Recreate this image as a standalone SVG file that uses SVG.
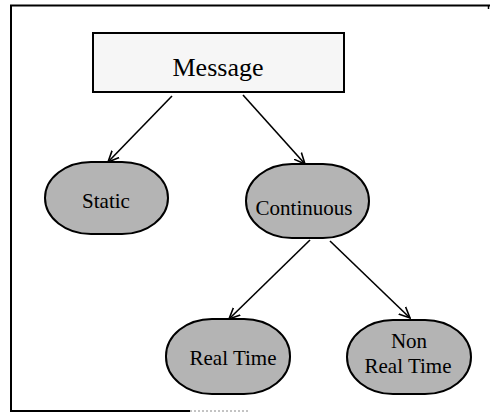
<svg xmlns="http://www.w3.org/2000/svg" width="491" height="413" viewBox="0 0 491 413">
<style>
.frame{stroke:#000;stroke-width:2;fill:none}
.pill{fill:#b4b4b4;stroke:#000;stroke-width:2}
.box{fill:#f6f6f6;stroke:#000;stroke-width:2}
.lbl{font-family:"Liberation Serif","Times New Roman",serif;fill:#000;text-anchor:middle}
.edge{stroke:#000;stroke-width:1.6;fill:none;marker-end:url(#arr)}
</style>
<defs>
<marker id="arr" viewBox="0 0 12 12" refX="11" refY="6" markerWidth="12" markerHeight="12" markerUnits="userSpaceOnUse" orient="auto">
<path d="M0,1 L11,6 L0,11" fill="none" stroke="#000" stroke-width="1.6"/>
</marker>
</defs>
<g id="frame">
<path class="frame" d="M490,5.5 H11 V411 H190"/>
<path d="M190,411 H248" stroke="#888" stroke-width="1" stroke-dasharray="2 2"/>
<path d="M488.5,5 V9" stroke="#000" stroke-width="1.5"/>
</g>
<g id="connectors">
<line class="edge" x1="172" y1="96" x2="108" y2="162"/>
<line class="edge" x1="243" y1="95" x2="305" y2="164"/>
<line class="edge" x1="310" y1="240" x2="229" y2="319"/>
<line class="edge" x1="330" y1="241" x2="410" y2="318"/>
</g>
<g id="message">
<rect class="box" x="93" y="33" width="251" height="59"/>
<text class="lbl" x="218" y="76" font-size="26">Message</text>
</g>
<g id="static">
<rect class="pill" x="45" y="162" width="123" height="72" rx="46" ry="36"/>
<text class="lbl" x="106" y="208" font-size="21">Static</text>
</g>
<g id="continuous">
<rect class="pill" x="246" y="164" width="123" height="74" rx="46" ry="37"/>
<text class="lbl" x="304" y="215" font-size="21">Continuous</text>
</g>
<g id="realtime">
<rect class="pill" x="166" y="319" width="124" height="75" rx="46" ry="37"/>
<text class="lbl" x="233" y="365" font-size="21">Real Time</text>
</g>
<g id="nonrealtime">
<rect class="pill" x="347" y="320" width="124" height="74" rx="46" ry="37"/>
<text class="lbl" x="409" y="348" font-size="21">Non</text>
<text class="lbl" x="408" y="373" font-size="21">Real Time</text>
</g>
</svg>
